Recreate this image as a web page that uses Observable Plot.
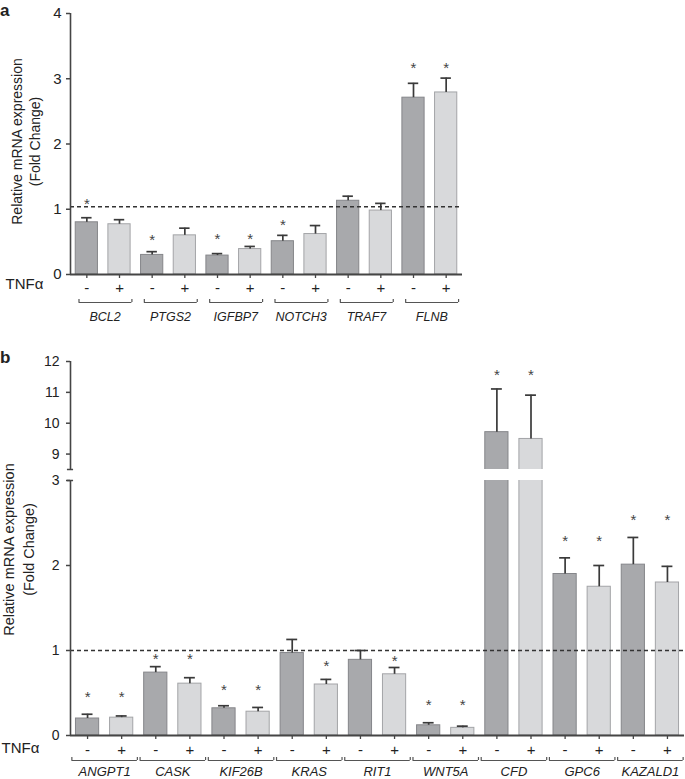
<!DOCTYPE html>
<html><head><meta charset="utf-8">
<script src="https://cdn.jsdelivr.net/npm/d3@7"></script>
<script src="https://cdn.jsdelivr.net/npm/@observablehq/plot@0.6"></script>
<style>
body{margin:0;background:#fff;font-family:"Liberation Sans",Arial,Helvetica,sans-serif;}
#wrap{position:relative;width:685px;height:779px;overflow:hidden;background:#fff;}
.plabel{position:absolute;left:0;font-weight:bold;font-size:17px;line-height:19px;color:#222;}
</style></head><body>
<div id="wrap">
  <div class="plabel" style="top:1px">a</div>
  <div class="plabel" style="top:348px">b</div>
</div>
<script>
// ---------------- data ----------------
const treatments = ["-", "+"];
const treatmentLabel = "TNFα";
const yLabel = "Relative mRNA expression\n(Fold Change)";

// panel a
const genesA = ["BCL2", "PTGS2", "IGFBP7", "NOTCH3", "TRAF7", "FLNB"];
const meanA_minus = [0.80, 0.30, 0.29, 0.51, 1.13, 2.71];
const meanA_plus  = [0.77, 0.60, 0.39, 0.62, 0.98, 2.79];
const semA_minus  = [0.07, 0.05, 0.03, 0.09, 0.07, 0.22];
const semA_plus   = [0.07, 0.11, 0.04, 0.13, 0.11, 0.22];
const starA_minus = [1.13, 0.58, 0.60, 0.81, null, 3.21];
const starA_plus  = [null, null, 0.60, null, null, 3.21];
const refA = 1.04;
const yTicksA = [0, 1, 2, 3, 4];

// panel b
const genesB = ["ANGPT1", "CASK", "KIF26B", "KRAS", "RIT1", "WNT5A", "CFD", "GPC6", "KAZALD1"];
const meanB_minus = [0.20, 0.74, 0.32, 0.97, 0.89, 0.12, 9.71, 1.90, 2.01];
const meanB_plus  = [0.21, 0.61, 0.28, 0.60, 0.72, 0.09, 9.49, 1.75, 1.80];
const semB_minus  = [0.05, 0.07, 0.03, 0.16, 0.11, 0.03, 1.40, 0.19, 0.32];
const semB_plus   = [0.02, 0.07, 0.05, 0.06, 0.08, 0.02, 1.42, 0.25, 0.19];
const starB_minus = [0.49, 0.94, 0.58, null, null, 0.40, 11.66, 2.33, 2.58];
const starB_plus  = [0.49, 0.94, 0.58, 0.86, 0.92, 0.40, 11.66, 2.33, 2.58];
const refB = 1.0;
const yTicksB_low  = [0, 1, 2, 3];
const yTicksB_high = [9, 10, 11, 12];
const yDomainB_low  = [0, 3];
const yDomainB_high = [8.5, 12];

// ---------------- styles ----------------
const FONT = '"Liberation Sans", Arial, Helvetica, sans-serif';
const DARK = "#a8a9ac", DARK_EDGE = "#85868a";
const LIGHT = "#d8d9db", LIGHT_EDGE = "#a3a4a7";
const ERR = "#3a3a3a", AX = "#454545", TXT = "#222", STAR = "#444";
const BAR = 0.34, CAP = 0.16;
const intFmt = d => String(d);

function buildRows(genes, mMinus, mPlus, sMinus, sPlus, stMinus, stPlus) {
  const out = [];
  genes.forEach((g, k) => {
    [[mMinus, sMinus, stMinus], [mPlus, sPlus, stPlus]].forEach(([m, s, st], t) => {
      out.push({i: 2 * k + t, gene: g, treat: treatments[t], mean: m[k], top: m[k] + s[k], star: st[k]});
    });
  });
  return out;
}
const rowsA = buildRows(genesA, meanA_minus, meanA_plus, semA_minus, semA_plus, starA_minus, starA_plus);
const rowsB = buildRows(genesB, meanB_minus, meanB_plus, semB_minus, semB_plus, starB_minus, starB_plus);

// marks for one y segment [lo, hi]: bars clipped to the frame, whiskers and stars kept only where they fall inside
function barMarks(data, [lo, hi]) {
  const bars = data.filter(d => d.mean >= lo);
  const errs = data.filter(d => d.mean >= lo && d.top <= hi);
  const stars = data.filter(d => d.star != null && d.star >= lo && d.star <= hi);
  return [
    Plot.rect(bars.filter(d => d.treat === "-"), {x1: d => d.i - BAR, x2: d => d.i + BAR, y1: 0, y2: "mean",
      fill: DARK, stroke: DARK_EDGE, strokeWidth: 1, clip: true}),
    Plot.rect(bars.filter(d => d.treat === "+"), {x1: d => d.i - BAR, x2: d => d.i + BAR, y1: 0, y2: "mean",
      fill: LIGHT, stroke: LIGHT_EDGE, strokeWidth: 1, clip: true}),
    Plot.ruleX(errs, {x: "i", y1: "mean", y2: "top", stroke: ERR, strokeWidth: 1.7}),
    Plot.ruleY(errs, {y: "top", x1: d => d.i - CAP, x2: d => d.i + CAP, stroke: ERR, strokeWidth: 1.7}),
    Plot.text(stars, {x: "i", y: "star", text: () => "*", fontSize: 15, fill: STAR, dy: 3.5})
  ];
}

function bottomMarks(data, genes, o) {
  const br = genes.map((g, k) => ({gene: g, x1: 2 * k + o.l, x2: 2 * k + 1 + o.r, xc: 2 * k + o.c}));
  return [
    Plot.axisX({ticks: data.map(d => d.i), tickFormat: i => data[i].treat, tickSize: 4, tickPadding: o.tp,
      fontSize: 15, stroke: AX, strokeWidth: 1.3, label: null}),
    Plot.ruleY(br, {y: 0, x1: "x1", x2: "x2", dy: o.bry, stroke: "#555", strokeWidth: 1.2}),
    Plot.ruleX(br, {x: "x1", y1: 0, y2: 0, dy: o.bry - 1.5, insetTop: -1.5, insetBottom: -1.5, stroke: "#555", strokeWidth: 1.2}),
    Plot.ruleX(br, {x: "x2", y1: 0, y2: 0, dy: o.bry - 1.5, insetTop: -1.5, insetBottom: -1.5, stroke: "#555", strokeWidth: 1.2}),
    Plot.text(br, {x: "xc", y: 0, text: "gene", dy: o.gy, fontStyle: "italic", fontSize: o.gfs, fill: TXT}),
    Plot.text([treatmentLabel], {text: d => d, frameAnchor: "bottom-left", textAnchor: "start", dx: o.tx, dy: o.ty, fontSize: 15, fill: TXT})
  ];
}

const wrap = document.getElementById("wrap");
function place(svg, top) {
  svg.style.position = "absolute";
  svg.style.left = "0px";
  svg.style.top = top + "px";
  wrap.appendChild(svg);
}
const baseStyle = {fontFamily: FONT, fontSize: "14px", color: TXT, background: "transparent", overflow: "visible"};

// ---------------- panel a ----------------
const xDomA = [-0.5, rowsA.length - 0.5];
const plotA = Plot.plot({
  width: 685, height: 330, marginTop: 13, marginBottom: 56, marginLeft: 70, marginRight: 223,
  style: baseStyle,
  x: {domain: xDomA, axis: null},
  y: {domain: [0, 4], axis: null},
  marks: [
    ...barMarks(rowsA, [0, 4]),
    Plot.ruleY([refA], {stroke: "#333", strokeWidth: 1.5, strokeDasharray: "4,3"}),
    Plot.ruleX([xDomA[0]], {stroke: AX, strokeWidth: 1.6}),
    Plot.ruleY([0], {stroke: AX, strokeWidth: 2}),
    Plot.axisY({ticks: yTicksA, tickFormat: intFmt, tickSize: 4, tickPadding: 5, fontSize: 15, stroke: AX, strokeWidth: 1.5, label: null}),
    ...bottomMarks(rowsA, genesA, {l: -0.24, r: 0.38, c: 0.56, tp: 4, bry: 28, gy: 42, gfs: 12.5, tx: -65, ty: 14}),
    Plot.text([yLabel], {text: d => d, frameAnchor: "left", textAnchor: "middle", lineAnchor: "middle", rotate: -90,
      dx: -45.5, dy: -2.5, fontSize: 14, lineHeight: 1.3, fill: TXT})
  ]
});
place(plotA, 0);

// ---------------- panel b (lower segment) ----------------
const xDomB = [-0.5, rowsB.length - 0.5];
const plotBlow = Plot.plot({
  width: 685, height: 449, marginTop: 150, marginBottom: 44, marginLeft: 70, marginRight: 1,
  style: baseStyle,
  x: {domain: xDomB, axis: null},
  y: {domain: yDomainB_low, axis: null},
  marks: [
    ...barMarks(rowsB, yDomainB_low),
    Plot.ruleY([refB], {stroke: "#333", strokeWidth: 1.5, strokeDasharray: "4,3"}),
    Plot.ruleX([xDomB[0]], {stroke: AX, strokeWidth: 1.6}),
    Plot.ruleY([yDomainB_low[1]], {x1: xDomB[0] - 0.09, x2: xDomB[0] + 0.09, stroke: AX, strokeWidth: 1.5}),
    Plot.ruleY([0], {stroke: AX, strokeWidth: 2}),
    Plot.axisY({ticks: yTicksB_low, tickFormat: intFmt, tickSize: 4, tickPadding: 7, fontSize: 14, stroke: AX, strokeWidth: 1.5, label: null}),
    ...bottomMarks(rowsB, genesB, {l: -0.46, r: 0.46, c: 0.5, tp: 5, bry: 25, gy: 36.5, gfs: 13, tx: -69, ty: 17}),
    Plot.text([yLabel], {text: d => d, frameAnchor: "left", textAnchor: "middle", lineAnchor: "middle", rotate: -90,
      dx: -53, dy: -58.5, fontSize: 14.5, lineHeight: 1.35, fill: TXT})
  ]
});
place(plotBlow, 330);

// ---------------- panel b (upper segment) ----------------
const plotBhigh = Plot.plot({
  width: 685, height: 140, marginTop: 31, marginBottom: 1, marginLeft: 70, marginRight: 1,
  style: baseStyle,
  x: {domain: xDomB, axis: null},
  y: {domain: yDomainB_high, axis: null},
  marks: [
    ...barMarks(rowsB, yDomainB_high),
    Plot.ruleX([xDomB[0]], {stroke: AX, strokeWidth: 1.6}),
    Plot.ruleY([yDomainB_high[0]], {x1: xDomB[0] - 0.09, x2: xDomB[0] + 0.09, stroke: AX, strokeWidth: 1.5}),
    Plot.axisY({ticks: yTicksB_high, tickFormat: intFmt, tickSize: 4, tickPadding: 7, fontSize: 14, stroke: AX, strokeWidth: 1.5, label: null})
  ]
});
place(plotBhigh, 330);
</script>
</body></html>
